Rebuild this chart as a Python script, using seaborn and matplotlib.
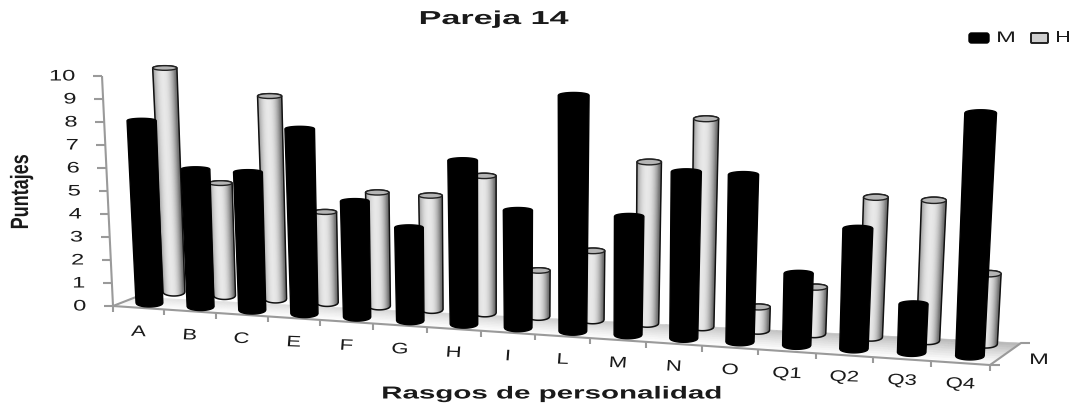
import numpy as np
import pandas as pd
import matplotlib
matplotlib.use("Agg")
import matplotlib.pyplot as plt
import matplotlib.patheffects as pe
from matplotlib.collections import PolyCollection
from matplotlib.patches import Ellipse, FancyBboxPatch, Polygon
from matplotlib.transforms import Affine2D
import seaborn as sns

# Scores per personality trait
rasgos = ["A", "B", "C", "E", "F", "G", "H", "I", "L", "M", "N", "O", "Q1", "Q2", "Q3", "Q4"]
puntajes_m = [8, 6, 6, 8, 5, 4, 7, 5, 10, 5, 7, 7, 3, 5, 2, 10]
puntajes_h = [10, 5, 9, 4, 5, 5, 6, 2, 3, 7, 9, 1, 2, 6, 6, 3]
ticks_y = list(range(0, 11))

W, H = 1075, 408
sns.set_style("white")
plt.rcParams["font.family"] = ["Liberation Sans", "DejaVu Sans"]

fig, ax = plt.subplots(figsize=(W / 100, H / 100), dpi=100)
ax.set_position([0, 0, 1, 1])

df = pd.DataFrame({
    "rasgo": rasgos * 2,
    "puntaje": puntajes_m + puntajes_h,
    "sexo": ["M"] * len(rasgos) + ["H"] * len(rasgos),
})
sns.barplot(data=df, x="rasgo", y="puntaje", hue="sexo", hue_order=["M", "H"],
            legend=False, ax=ax, errorbar=None)
ax.axis("off")
# seaborn resolves the values; the cylinders below replace the flat rectangles
alturas = {}
for nombre, cont in zip(["M", "H"], ax.containers):
    alturas[nombre] = [b.get_height() for b in cont]
    for b in cont:
        b.set_visible(False)

# image-pixel coordinates with y pointing down
pix = Affine2D().scale(1, -1).translate(0, H)


class Estirar(pe.AbstractPathEffect):
    """Rescales a text's outline about its centre or right edge."""

    def __init__(self, sx=1.0, sy=1.0, ancla="centro"):
        super().__init__()
        self.sx, self.sy, self.ancla = sx, sy, ancla

    def draw_path(self, renderer, gc, tpath, affine, rgbFace=None):
        e = tpath.get_extents(affine)
        ax0 = e.x1 if self.ancla == "derecha" else (e.x0 + e.x1) / 2
        ay0 = (e.y0 + e.y1) / 2
        t = affine + Affine2D().translate(-ax0, -ay0).scale(self.sx, self.sy).translate(ax0, ay0)
        renderer.draw_path(gc, tpath, t, rgbFace)


def texto(x, y, s, size, sx=1.0, sy=1.0, ancla="centro", **kw):
    kw.setdefault("ha", "right" if ancla == "derecha" else "center")
    t = ax.text(x, y, s, transform=pix, fontsize=size, va="center", color="#1a1a1a",
                clip_on=False, **kw)
    t.set_path_effects([Estirar(sx, sy, ancla)])
    return t


def frente_x(u):
    return 113 + 50.75 * u + 0.253 * u ** 2


def frente_y(x):
    return 306 + 0.0673 * (x - 113)


def fondo(u):
    return 136 + (1021 - 136) * u / 16, 297 + (343 - 297) * u / 16


# floor, fading from grey at the back to white at the front
polys, tonos = [], []
us = np.linspace(0, 16, 41)
ds = np.linspace(0, 1, 11)
for a, b in zip(us[:-1], us[1:]):
    for p, q in zip(ds[:-1], ds[1:]):
        def punto(u, d):
            fx = frente_x(u)
            bx, by = fondo(u)
            return (fx + (bx - fx) * d, frente_y(fx) + (by - frente_y(fx)) * d)
        polys.append([punto(a, p), punto(b, p), punto(b, q), punto(a, q)])
        tonos.append(1 - 0.30 * ((p + q) / 2) ** 1.3 * (0.35 + 0.65 * a / 16))
cols = [(t, t, t) for t in tonos]
ax.add_collection(PolyCollection(polys, facecolors=cols, edgecolors=cols, linewidths=0.4,
                                 transform=pix, zorder=1, clip_on=False))

GRIS = "#9a9a9a"


def linea(xs, ys, lw=1.5, color=GRIS, z=2):
    ax.plot(xs, ys, transform=pix, color=color, lw=lw, zorder=z, clip_on=False,
            solid_capstyle="butt", scalex=False, scaley=False)


# walls, floor edges and ticks
linea([113, 102], [306, 76])
linea([113, 136], [306, 297])
linea([113, 990], [306, 365])
linea([990, 1021, 1030], [365, 343, 343])
linea([990, 1000], [365, 365])
for v in ticks_y:
    x = 113 - 1.1 * v
    y = 306 - 23.0 * v
    linea([x - 9, x], [y, y])
    texto(x - 27, y + 0.5, str(v), 11, sx=1.55, ancla="derecha")
for u in range(17):
    x = frente_x(u)
    linea([x, x], [frente_y(x), frente_y(x) + 6])

for i, r in enumerate(rasgos):
    texto(frente_x(i + 0.5), 332 + 3.47 * i, r, 11, sx=1.45, rotation=-3)
texto(1039, 360, "M", 11, sx=1.55)


def cilindro(i, v, serie):
    """Draws a single cylinder for trait index i and score v."""
    u = i + 0.5
    if serie == "M":
        cx = frente_x(u) + 11.0 - 0.1 * i
        fondo_y = 307 + 3.53 * i
        unidad = 22.8 + 0.1 * i
        mitad = 13.4 + 0.06 * i
    else:
        cx = frente_x(u) + 35.5 - 0.68 * i
        fondo_y = 296 + 3.47 * i
        unidad = 22.4 + 0.07 * i
        mitad = 10.9 + 0.05 * i
    sb, st = 4.0, 2.3 + 0.06 * i
    yb = fondo_y - sb
    yt = yb - v * unidad
    ct = cx + (cx - 540) * 0.025 * v / 10
    mt = mitad * (1 + 0.011 * v)

    ts = np.linspace(-1, 1, 41)
    arco = np.sqrt(1 - ts ** 2)
    contorno = np.vstack([
        np.c_[cx + mitad * ts, yb + sb * arco],
        np.c_[ct + mt * ts[::-1], yt - st * arco[::-1]],
    ])
    if serie == "M":
        ax.add_patch(Polygon(contorno, closed=True, facecolor="black", edgecolor="black",
                             lw=1, transform=pix, zorder=5, clip_on=False, joinstyle="round"))
        return
    tiras, grises = [], []
    for k in range(len(ts) - 1):
        a, b = ts[k], ts[k + 1]
        tiras.append([(cx + mitad * a, yb + sb * arco[k]), (cx + mitad * b, yb + sb * arco[k + 1]),
                      (ct + mt * b, yt), (ct + mt * a, yt)])
        m = (a + b) / 2 + 0.12
        g = 0.45 + 0.46 * (1 - min(abs(m), 1) ** 2.2)
        grises.append((g, g, g))
    ax.add_collection(PolyCollection(tiras, facecolors=grises, edgecolors=grises, linewidths=0.4,
                                     transform=pix, zorder=3, clip_on=False))
    ax.add_patch(Polygon(contorno, closed=True, fill=False, edgecolor="#111111", lw=1.1,
                         transform=pix, zorder=3.5, clip_on=False))
    ax.add_patch(Ellipse((ct, yt), 2 * mt, 2 * st, facecolor="#b5b5b5", edgecolor="#222222",
                         lw=1.0, transform=pix, zorder=3.6, clip_on=False))


for serie in ["H", "M"]:
    for i, v in enumerate(alturas[serie]):
        cilindro(i, v, serie)

# titles
texto(494, 19.5, "Pareja 14", 13.5, sx=1.82, fontweight="bold")
texto(552, 394, "Rasgos de personalidad", 12.5, sx=1.7, fontweight="bold")
texto(21, 192, "Puntajes", 18, sy=0.72, rotation=90, fontweight="bold")

# legend
ax.add_patch(FancyBboxPatch((969, 33), 20, 10, boxstyle="round,pad=0,rounding_size=2.5",
                            facecolor="black", edgecolor="black", lw=1, transform=pix, clip_on=False))
ax.add_patch(FancyBboxPatch((1031, 33), 17, 10, boxstyle="round,pad=0,rounding_size=1",
                            facecolor="#cfcfcf", edgecolor="#222222", lw=1.4, transform=pix, clip_on=False))
texto(1006, 38, "M", 11, sx=1.55)
texto(1063, 38, "H", 11, sx=1.45)

fig.savefig("out.png", dpi=100, facecolor="white")
